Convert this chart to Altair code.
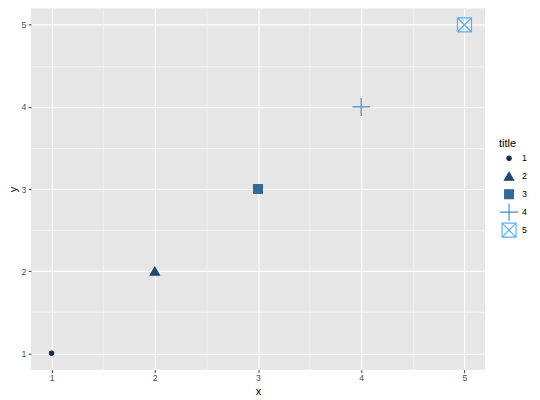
import altair as alt
import pandas as pd

# data
x_vals = [1, 2, 3, 4, 5]
y_vals = [1, 2, 3, 4, 5]
titles = ["1", "2", "3", "4", "5"]
major_ticks = [1, 2, 3, 4, 5]
minor_ticks = [1.5, 2.5, 3.5, 4.5]

df = pd.DataFrame({"x": x_vals, "y": y_vals, "title": titles})


# ggplot-like gradient (#132B43 -> #56B1F7) interpolated in CIE Lab
def hex_to_rgb(h):
    h = h.lstrip("#")
    return [int(h[i:i + 2], 16) / 255 for i in (0, 2, 4)]


def srgb_to_lin(c):
    return c / 12.92 if c <= 0.04045 else ((c + 0.055) / 1.055) ** 2.4


def lin_to_srgb(c):
    c = max(0.0, min(1.0, c))
    return 12.92 * c if c <= 0.0031308 else 1.055 * c ** (1 / 2.4) - 0.055


WHITE = (0.95047, 1.0, 1.08883)


def f(t):
    return t ** (1 / 3) if t > 216 / 24389 else (24389 / 27 * t + 16) / 116


def finv(t):
    return t ** 3 if t ** 3 > 216 / 24389 else (116 * t - 16) / (24389 / 27)


def to_lab(hx):
    r, g, b = [srgb_to_lin(c) for c in hex_to_rgb(hx)]
    X = 0.4124 * r + 0.3576 * g + 0.1805 * b
    Y = 0.2126 * r + 0.7152 * g + 0.0722 * b
    Z = 0.0193 * r + 0.1192 * g + 0.9505 * b
    fx, fy, fz = f(X / WHITE[0]), f(Y / WHITE[1]), f(Z / WHITE[2])
    return (116 * fy - 16, 500 * (fx - fy), 200 * (fy - fz))


def from_lab(L, a, bb):
    fy = (L + 16) / 116
    fx = fy + a / 500
    fz = fy - bb / 200
    X, Y, Z = finv(fx) * WHITE[0], finv(fy) * WHITE[1], finv(fz) * WHITE[2]
    r = 3.2406 * X - 1.5372 * Y - 0.4986 * Z
    g = -0.9689 * X + 1.8758 * Y + 0.0415 * Z
    b = 0.0557 * X - 0.2040 * Y + 1.0570 * Z
    return "#" + "".join("%02X" % round(lin_to_srgb(c) * 255) for c in (r, g, b))


lo, hi = to_lab("#132B43"), to_lab("#56B1F7")
n = len(titles)
colors = []
for i in range(n):
    t = i / (n - 1)
    colors.append(from_lab(*[lo[k] + (hi[k] - lo[k]) * t for k in range(3)]))

fills = colors[:3] + ["transparent", "transparent"]
shapes = [
    "circle",
    "triangle-up",
    "square",
    "M-1,0H1M0,-1V1",
    "M-1,-1H1V1H-1ZM-1,-1L1,1M-1,1L1,-1",
]
sizes = [18, 86, 78, 324, 196]

xr = max(x_vals) - min(x_vals)
yr = max(y_vals) - min(y_vals)
xdom = [min(x_vals) - 0.05 * xr, max(x_vals) + 0.05 * xr]
ydom = [min(y_vals) - 0.05 * yr, max(y_vals) + 0.05 * yr]

font = "Liberation Sans"


def make_axis(pad):
    return alt.Axis(
        values=sorted(major_ticks + minor_ticks),
        labelExpr="datum.value % 1 == 0 ? format(datum.value, 'd') : ''",
        domain=False,
        grid=True,
        gridColor="white",
        gridWidth={"condition": {"test": "datum.value % 1 == 0", "value": 1.1}, "value": 0.55},
        tickOpacity={"condition": {"test": "datum.value % 1 == 0", "value": 1}, "value": 0},
        tickColor="#333333",
        tickSize=2.75,
        tickWidth=1,
        labelColor="#4D4D4D",
        labelFontSize=8.8,
        labelFont=font,
        labelPadding=pad,
        titleFont=font,
        titleFontSize=11,
        titleFontWeight="normal",
        titleColor="black",
        labelFlush=False,
        labelOverlap=False,
    )


legend = alt.Legend(title="title")

chart = (
    alt.Chart(df)
    .mark_point(filled=True, strokeWidth=1.2, opacity=1)
    .encode(
        x=alt.X("x:Q", scale=alt.Scale(domain=xdom, nice=False, zero=False), axis=make_axis(1.5), title="x"),
        y=alt.Y("y:Q", scale=alt.Scale(domain=ydom, nice=False, zero=False), axis=make_axis(2.2), title="y"),
        fill=alt.Fill("title:N", scale=alt.Scale(domain=titles, range=fills), legend=legend),
        stroke=alt.Stroke("title:N", scale=alt.Scale(domain=titles, range=colors), legend=legend),
        shape=alt.Shape("title:N", scale=alt.Scale(domain=titles, range=shapes), legend=legend),
        size=alt.Size("title:N", scale=alt.Scale(type="ordinal", domain=titles, range=sizes), legend=legend),
    )
    .properties(
        width=455,
        height=362,
        autosize=alt.AutoSizeParams(type="none"),
        padding={"left": 23, "top": 0, "right": 47, "bottom": 28},
    )
    .configure_view(fill="#E6E6E6", stroke=None)
    .configure_axisY(titlePadding=3)
    .configure_axisX(titlePadding=3)
    .configure_legend(
        orient="none",
        legendX=469,
        legendY=130,
        titleFont=font,
        titleFontSize=11,
        titleFontWeight="normal",
        titleColor="black",
        titlePadding=0.5,
        labelFont=font,
        labelFontSize=8.8,
        labelColor="black",
        labelOffset=3,
        clipHeight=17.3,
        rowPadding=0,
        symbolStrokeWidth=1.2,
    )
)

chart.save("out.html", embed_options={"renderer": "svg", "actions": False})
